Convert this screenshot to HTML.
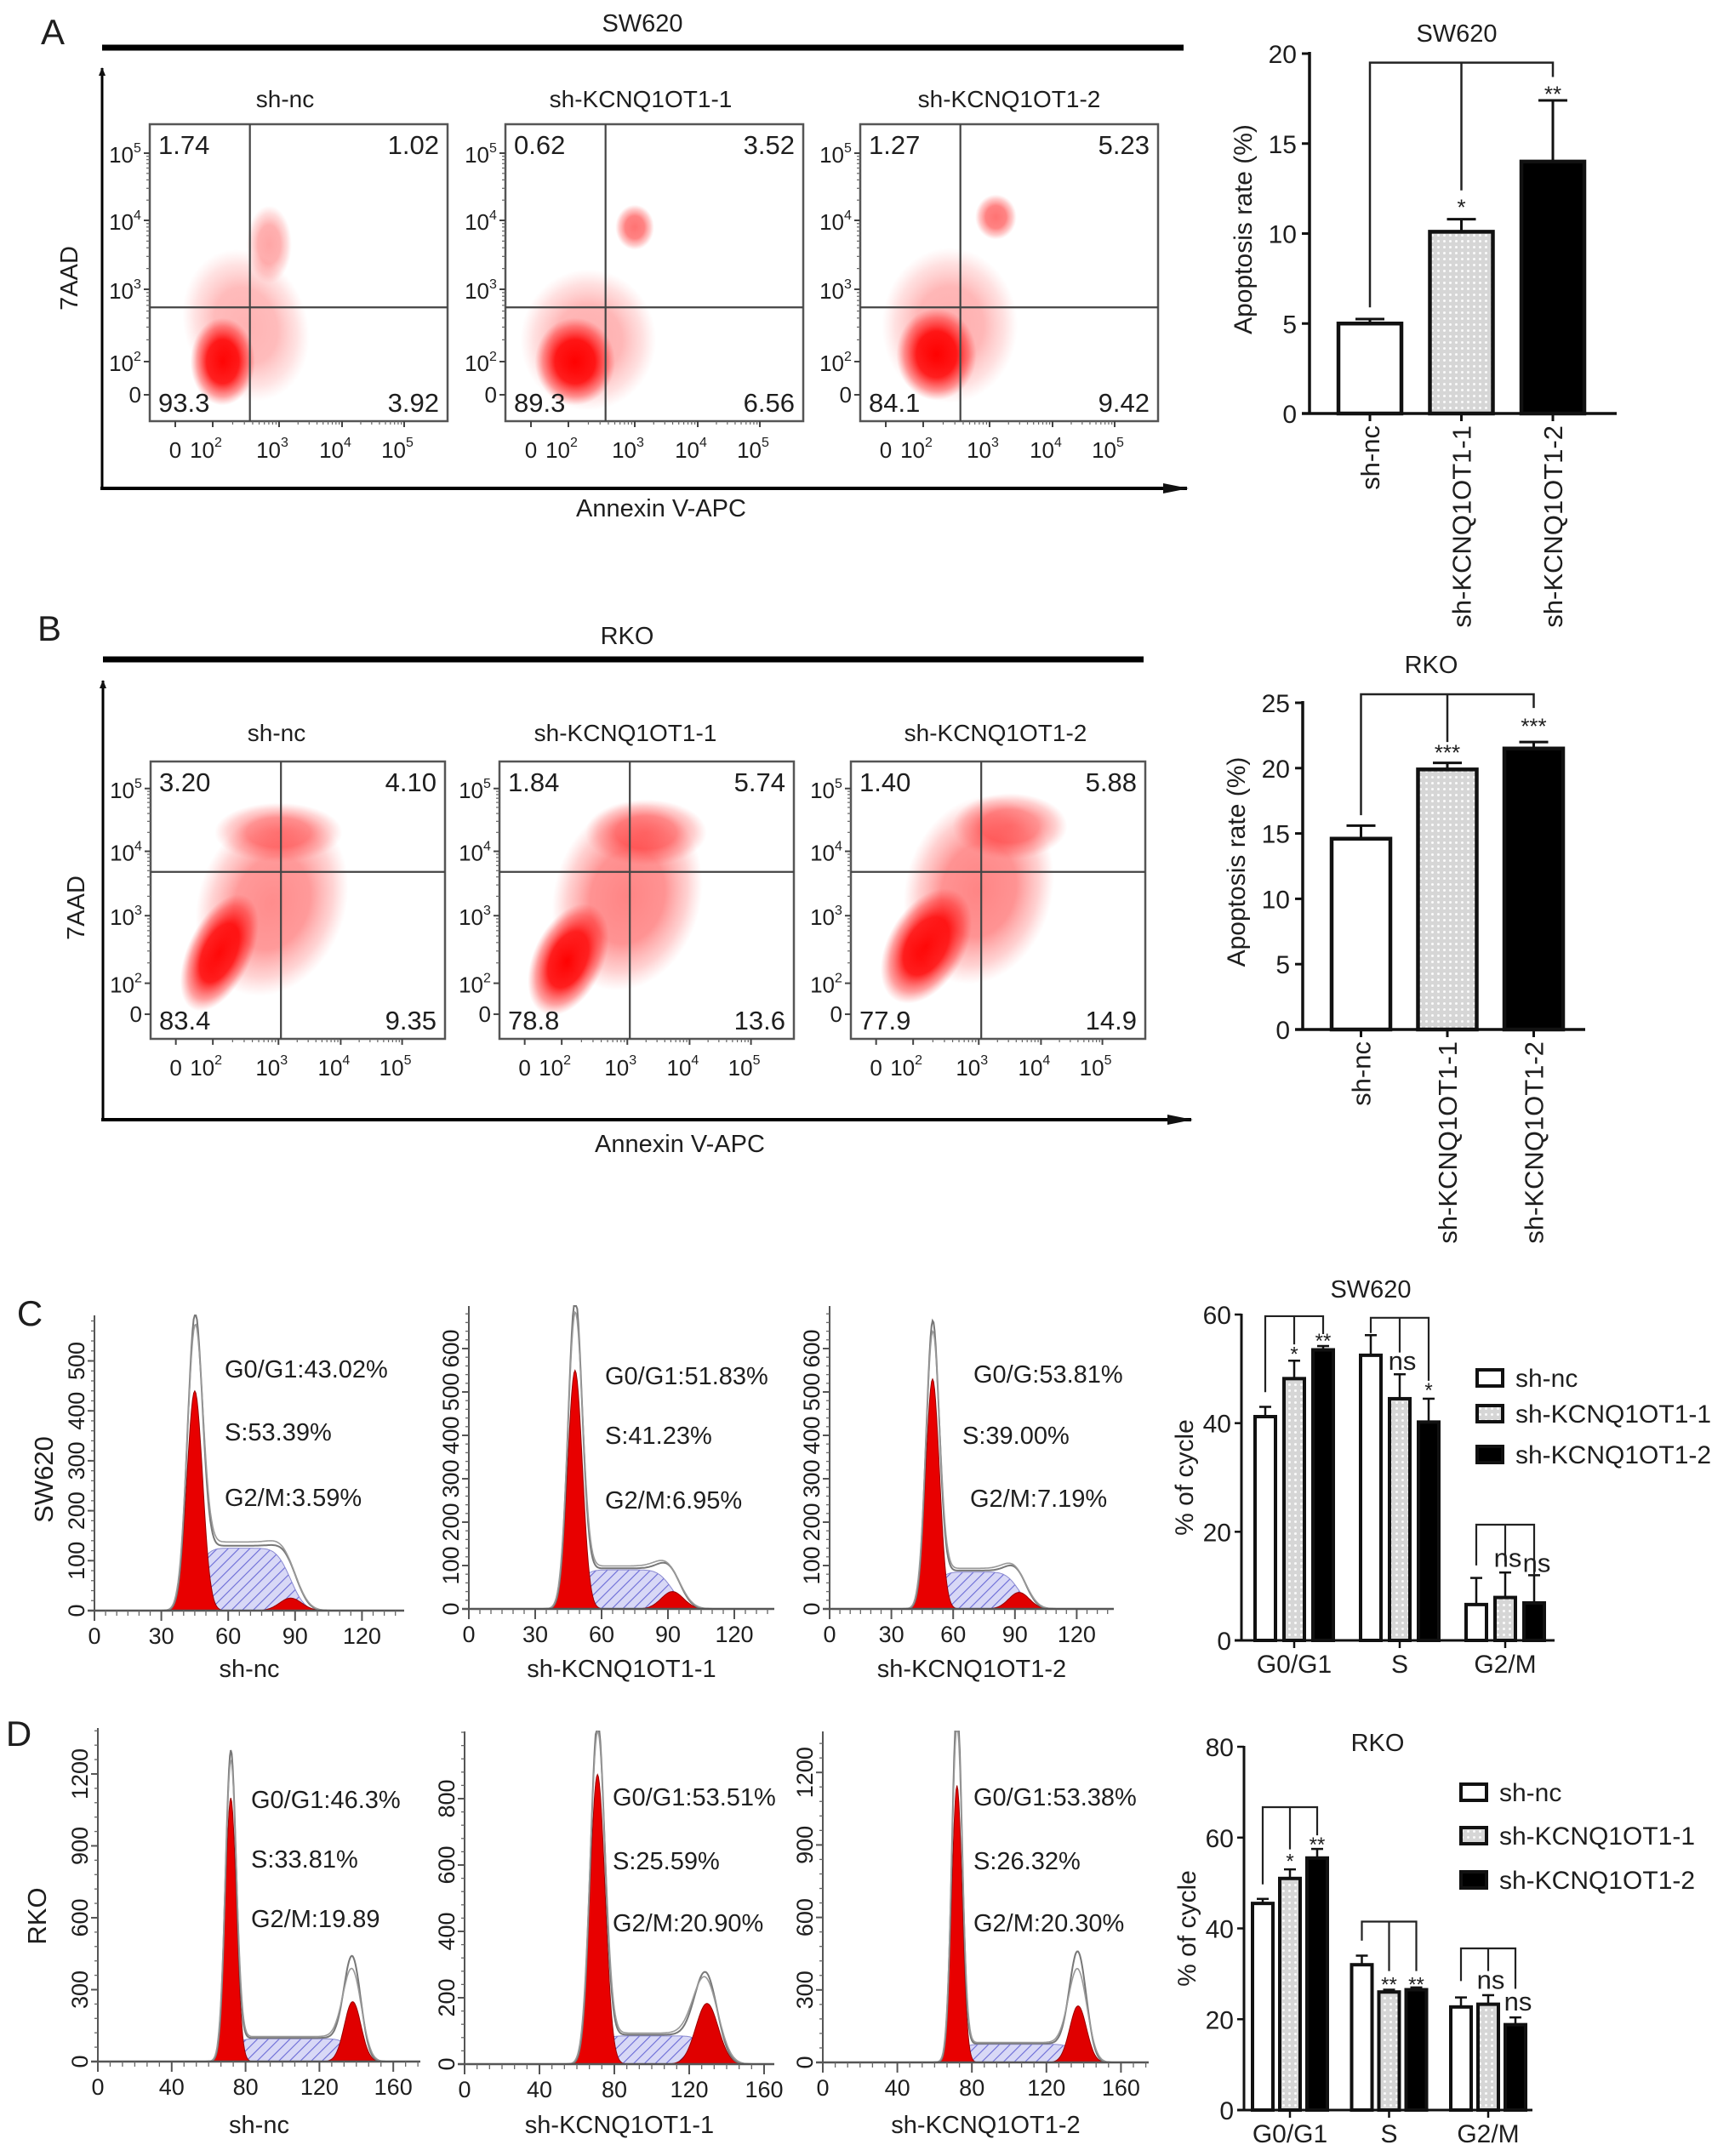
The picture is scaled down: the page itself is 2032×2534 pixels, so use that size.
<!DOCTYPE html>
<html><head><meta charset="utf-8"><title>KCNQ1OT1 apoptosis and cell cycle figure</title>
<style>
html,body{margin:0;padding:0;background:#fff;}
svg{display:block;font-family:"Liberation Sans",Arial,sans-serif;}
text{fill:#1e1e1e;}
</style></head>
<body>
<svg id="fig" xmlns="http://www.w3.org/2000/svg" width="2032" height="2534" viewBox="0 0 2032 2534">
<defs>
<pattern id="dots" width="7" height="7" patternUnits="userSpaceOnUse"><rect width="7" height="7" fill="#d6d6d6"/><circle cx="3.5" cy="3.5" r="1.5" fill="#fbfbfb"/></pattern>
<pattern id="hatch" width="9" height="9" patternUnits="userSpaceOnUse" patternTransform="rotate(45)"><rect width="9" height="9" fill="#d8d8f6"/><line x1="0" y1="0" x2="0" y2="9" stroke="#6a6ad6" stroke-width="2.2"/></pattern>
<radialGradient id="blob"><stop offset="0" stop-color="#ff0000" stop-opacity="1"/><stop offset="0.5" stop-color="#ff0505" stop-opacity="0.9"/><stop offset="0.8" stop-color="#ff2a2a" stop-opacity="0.45"/><stop offset="1" stop-color="#ff5050" stop-opacity="0"/></radialGradient>
<marker id="arrow" markerWidth="10" markerHeight="8" refX="9" refY="4" orient="auto" markerUnits="userSpaceOnUse"><path d="M0,0 L10,4 L0,8 z" fill="#111"/></marker>
<marker id="arrowBig" markerWidth="30" markerHeight="12" refX="28" refY="6" orient="auto" markerUnits="userSpaceOnUse"><path d="M0,0 L30,6 L0,12 z" fill="#111"/></marker>
</defs>

<text x="62" y="52" font-size="42" text-anchor="middle">A</text>
<text x="58" y="753" font-size="42" text-anchor="middle">B</text>
<text x="35" y="1558" font-size="42" text-anchor="middle">C</text>
<text x="22" y="2052" font-size="42" text-anchor="middle">D</text>

<text x="755" y="37" font-size="29" text-anchor="middle">SW620</text>
<line x1="120" y1="56" x2="1391" y2="56" stroke="#000" stroke-width="7"/>
<line x1="120" y1="575" x2="120" y2="80" stroke="#000" stroke-width="3" marker-end="url(#arrow)"/>
<line x1="118" y1="574" x2="1395" y2="574" stroke="#000" stroke-width="4" marker-end="url(#arrowBig)"/>
<text transform="translate(91,327) rotate(-90)" font-size="29" text-anchor="middle">7AAD</text>
<text x="777" y="607" font-size="29" text-anchor="middle">Annexin V-APC</text>

<text x="737" y="757" font-size="29" text-anchor="middle">RKO</text>
<line x1="121" y1="775" x2="1344" y2="775" stroke="#000" stroke-width="7"/>
<line x1="121" y1="1317" x2="121" y2="800" stroke="#000" stroke-width="3" marker-end="url(#arrow)"/>
<line x1="119" y1="1316" x2="1400" y2="1316" stroke="#000" stroke-width="4" marker-end="url(#arrowBig)"/>
<text transform="translate(99,1067) rotate(-90)" font-size="29" text-anchor="middle">7AAD</text>
<text x="799" y="1354" font-size="29" text-anchor="middle">Annexin V-APC</text>

<text transform="translate(62,1739) rotate(-90)" font-size="31" text-anchor="middle">SW620</text>
<text transform="translate(54,2252) rotate(-90)" font-size="31" text-anchor="middle">RKO</text>
</svg>

<script>
/* ================= DATA ================= */
const flowSamples = ['sh-nc', 'sh-KCNQ1OT1-1', 'sh-KCNQ1OT1-2'];
const flowSW620Quadrants = [['1.74','1.02','93.3','3.92'], ['0.62','3.52','89.3','6.56'], ['1.27','5.23','84.1','9.42']];
const flowRKOQuadrants = [['3.20','4.10','83.4','9.35'], ['1.84','5.74','78.8','13.6'], ['1.40','5.88','77.9','14.9']];
const flowDecadeTicks = [1, 2, 3, 4, 5];
const flowDecadeTickLabels = ['0', '2', '3', '4', '5'];
const flowSW620Gate = [2.56, 2.75];
const flowRKOGate = [3.04, 3.68];
const flowSW620Clusters = [
  [[2.15, 2.0, 0.5, 0.62, 1, 0], [2.5, 2.5, 0.95, 1.1, 0.3, -20], [2.85, 3.65, 0.35, 0.55, 0.35, 0]],
  [[2.1, 2.0, 0.62, 0.62, 1, 0], [2.3, 2.3, 1.05, 1.0, 0.32, 0], [3.0, 3.9, 0.3, 0.32, 0.55, 0]],
  [[2.2, 2.1, 0.62, 0.65, 1, 0], [2.4, 2.5, 1.05, 1.1, 0.32, 0], [3.1, 4.05, 0.32, 0.32, 0.55, 0]]
];
const flowRKOClusters = [
  [[2.1, 2.45, 0.5, 0.95, 1, 25], [2.9, 3.2, 1.15, 1.45, 0.45, 20], [3.0, 4.3, 1.0, 0.45, 0.45, 0]],
  [[2.1, 2.35, 0.55, 0.9, 1, 25], [3.0, 3.3, 1.15, 1.45, 0.48, 15], [3.3, 4.3, 0.95, 0.5, 0.48, 0]],
  [[2.2, 2.55, 0.6, 0.95, 1, 30], [3.0, 3.4, 1.15, 1.45, 0.48, 15], [3.5, 4.4, 0.9, 0.5, 0.48, 0]]
];

const apoCategories = ['sh-nc', 'sh-KCNQ1OT1-1', 'sh-KCNQ1OT1-2'];
const apoSW620Values = [5.0, 10.1, 14.0];
const apoSW620Errors = [0.25, 0.7, 3.4];
const apoSW620Ticks = [0, 5, 10, 15, 20];
const apoSW620BracketTop = 19.5;
const apoSW620Legs = [5.9, 12.4, 18.7];
const apoSW620Stars = ['', '*', '**'];
const apoSW620StarY = [0, 11.6, 17.9];
const apoRKOValues = [14.6, 19.9, 21.5];
const apoRKOErrors = [1.0, 0.5, 0.5];
const apoRKOTicks = [0, 5, 10, 15, 20, 25];
const apoRKOBracketTop = 25.65;
const apoRKOLegs = [16.4, 22.0, 24.6];
const apoRKOStars = ['', '***', '***'];
const apoRKOStarY = [0, 21.4, 23.4];

const histSW620G1Mean = [45, 48, 50];
const histSW620G1Sd = [3.5, 3.3, 3.3];
const histSW620G1Height = [440, 550, 530];
const histSW620G1Peak = [530, 670, 620];
const histSW620SLevel = [125, 90, 85];
const histSW620G2Mean = [88, 92, 92];
const histSW620G2Sd = [5, 5, 5];
const histSW620G2Height = [25, 40, 38];
const histSW620G2Peak = [30, 45, 42];
const histSW620Text = [['G0/G1:43.02%', 'S:53.39%', 'G2/M:3.59%'], ['G0/G1:51.83%', 'S:41.23%', 'G2/M:6.95%'], ['G0/G:53.81%', 'S:39.00%', 'G2/M:7.19%']];
const histSW620XTicks = [0, 30, 60, 90, 120];
const histSW620YTicks = [[0, 100, 200, 300, 400, 500], [0, 100, 200, 300, 400, 500, 600], [0, 100, 200, 300, 400, 500, 600]];

const histRKOG1Mean = [72, 71, 72];
const histRKOG1Sd = [3, 4, 2.8];
const histRKOG1Height = [1100, 873, 1146];
const histRKOG1Peak = [1250, 991, 1450];
const histRKOSLevel = [95, 85, 75];
const histRKOG2Mean = [138, 129.5, 137];
const histRKOG2Sd = [4.5, 6, 4.5];
const histRKOG2Height = [250, 183, 234];
const histRKOG2Peak = [390, 230, 420];
const histRKOText = [['G0/G1:46.3%', 'S:33.81%', 'G2/M:19.89'], ['G0/G1:53.51%', 'S:25.59%', 'G2/M:20.90%'], ['G0/G1:53.38%', 'S:26.32%', 'G2/M:20.30%']];
const histRKOXTicks = [0, 40, 80, 120, 160];
const histRKOYTicks = [[0, 300, 600, 900, 1200], [0, 200, 400, 600, 800], [0, 300, 600, 900, 1200]];

const cyclePhases = ['G0/G1', 'S', 'G2/M'];
const cycleGroups = ['sh-nc', 'sh-KCNQ1OT1-1', 'sh-KCNQ1OT1-2'];
const cycleSW620Values = [[41.2, 48.2, 53.5], [52.5, 44.5, 40.2], [6.6, 7.9, 6.9]];
const cycleSW620Errors = [[1.8, 3.3, 0.7], [3.7, 4.5, 4.3], [4.9, 4.6, 5.1]];
const cycleSW620Ticks = [0, 20, 40, 60];
const cycleSW620BracketTops = [59.7, 59.4, 21.3];
const cycleSW620Legs = [[45.7, 54.5, 56.4], [56.6, 53.0, 47.8], [13.8, 14.5, 12.0]];
const cycleSW620Marks = [['', '*', '**'], ['', 'ns', '*'], ['', 'ns', 'ns']];
const cycleSW620MarkY = [[0, 53.2, 55.6], [0, 51.2, 46.5], [0, 15.0, 14.0]];
const cycleRKOValues = [[45.5, 51.0, 55.5], [32.0, 26.0, 26.5], [22.7, 23.3, 18.8]];
const cycleRKOErrors = [[1.0, 2.0, 2.0], [2.0, 0.5, 0.5], [2.1, 2.0, 1.6]];
const cycleRKOTicks = [0, 20, 40, 60, 80];
const cycleRKOBracketTops = [66.7, 41.5, 35.6];
const cycleRKOLegs = [[49.7, 57.4, 60.5], [37.3, 30.6, 30.6], [28.4, 30.6, 26.7]];
const cycleRKOMarks = [['', '*', '**'], ['', '**', '**'], ['', 'ns', 'ns']];
const cycleRKOMarkY = [[0, 55.4, 59.0], [0, 28.2, 28.2], [0, 28.4, 23.6]];

/* ================= HELPERS ================= */
const NS = 'http://www.w3.org/2000/svg';
const svg = document.getElementById('fig');
function mk(tag, attrs, parent) {
  const e = document.createElementNS(NS, tag);
  for (const k in attrs) e.setAttribute(k, attrs[k]);
  (parent || svg).appendChild(e);
  return e;
}
function tx(s, attrs, parent) { const e = mk('text', attrs, parent); e.textContent = s; return e; }
const barFills = ['#ffffff', 'url(#dots)', '#000000'];

/* ================= FLOW PLOTS ================= */
const FX = [30, 74, 152, 226, 299];
const FY = [318, 279, 194, 113, 34];
function interp(arr, d) {
  let i = Math.floor(d) - 1;
  if (i < 0) i = 0; if (i > 3) i = 3;
  return arr[i] + (arr[i + 1] - arr[i]) * (d - (i + 1));
}
function drawFlow(key, bx, by, bw, bh, titleY, titleDx, quads, gate, clusters, idx) {
  const g = mk('g', {});
  
  
  const sx = bw / 350, sy = bh / 349;
  const fx = d => bx + interp(FX, d) * sx;
  const fy = d => by + interp(FY, d) * sy;
  const t = tx(flowSamples[idx], { x: bx + bw / 2 + titleDx, y: titleY + 10, 'font-size': 28, 'text-anchor': 'middle' }, g);
  
  
  const cid = key + 'clip' + idx;
  const cp = mk('clipPath', { id: cid }, g);
  mk('rect', { x: bx, y: by, width: bw, height: bh }, cp);
  const cg = mk('g', { 'clip-path': 'url(#' + cid + ')' }, g);
  clusters[idx].forEach((c, k) => {
    const cx = fx(c[0]), cy = fy(c[1]);
    const rx = c[2] * 76 * sx, ry = c[3] * 83 * sy;
    const el = mk('ellipse', { cx: cx, cy: cy, rx: rx, ry: ry, fill: 'url(#blob)', opacity: c[4], transform: 'rotate(' + c[5] + ' ' + cx + ' ' + cy + ')' }, cg);
    
    
  });
  const box = mk('rect', { x: bx, y: by, width: bw, height: bh, fill: 'none', stroke: '#555', 'stroke-width': 2.5 }, g);
  
  
  const gx = fx(gate[0]), gy = fy(gate[1]);
  const vl = mk('line', { x1: gx, y1: by, x2: gx, y2: by + bh, stroke: '#444', 'stroke-width': 2.2 }, g);
  
  
  const hl = mk('line', { x1: bx, y1: gy, x2: bx + bw, y2: gy, stroke: '#444', 'stroke-width': 2.2 }, g);
  
  
  flowDecadeTicks.forEach((d, k) => {
    const yy = fy(d), xx = fx(d);
    mk('line', { x1: bx - 7, y1: yy, x2: bx, y2: yy, stroke: '#444', 'stroke-width': 2 }, g);
    mk('line', { x1: xx, y1: by + bh, x2: xx, y2: by + bh + 7, stroke: '#444', 'stroke-width': 2 }, g);
    if (d >= 2 && d < 5) {
      for (let m = 2; m <= 9; m++) {
        const dd = d + Math.log10(m);
        mk('line', { x1: bx - 4, y1: fy(dd), x2: bx, y2: fy(dd), stroke: '#666', 'stroke-width': 1.2 }, g);
        mk('line', { x1: fx(dd), y1: by + bh, x2: fx(dd), y2: by + bh + 4, stroke: '#666', 'stroke-width': 1.2 }, g);
      }
    }
    let yl, xl;
    if (k === 0) {
      yl = tx('0', { x: bx - 10, y: yy + 9, 'font-size': 26, 'text-anchor': 'end' }, g);
      xl = tx('0', { x: xx, y: by + bh + 43, 'font-size': 26, 'text-anchor': 'middle' }, g);
    } else {
      yl = tx('10', { x: bx - 19, y: yy + 11, 'font-size': 26, 'text-anchor': 'end' }, g);
      const s1 = tx(flowDecadeTickLabels[k], { x: bx - 19, y: yy - 1, 'font-size': 16, 'text-anchor': 'start' }, g);
      
      
      xl = tx('10', { x: xx + 2, y: by + bh + 43, 'font-size': 26, 'text-anchor': 'end' }, g);
      const s2 = tx(flowDecadeTickLabels[k], { x: xx + 2, y: by + bh + 30, 'font-size': 16, 'text-anchor': 'start' }, g);
      
      
    }
    
    
    
    
  });
  const q = quads[idx];
  const pos = [[bx + 10, by + 35, 'start'], [bx + bw - 10, by + 35, 'end'], [bx + 10, by + bh - 11, 'start'], [bx + bw - 10, by + bh - 11, 'end']];
  const qn = ['upper-left', 'upper-right', 'lower-left', 'lower-right'];
  q.forEach((v, k) => {
    const e = tx(v, { x: pos[k][0], y: pos[k][1], 'font-size': 31, 'text-anchor': pos[k][2] }, g);
    
    
  });
}
[176, 594, 1011].forEach((bx, i) => drawFlow('sw620', bx, 146, 350, 349, 116, i === 2 ? 0 : -16, flowSW620Quadrants, flowSW620Gate, flowSW620Clusters, i));
[177, 587, 1000].forEach((bx, i) => drawFlow('rko', bx, 895, 346, 326, 861, i === 2 ? -3 : -25, flowRKOQuadrants, flowRKOGate, flowRKOClusters, i));

/* ================= APOPTOSIS BARS ================= */
function drawApo(key, title, axX, y0, yTop, vmax, xEnd, barX0, barStep, barW, values, errors, ticks, bTop, legs, stars, starY, titleX, titleY) {
  const g = mk('g', {});
  
  
  const yS = v => y0 - (y0 - yTop) * v / vmax;
  const tt = tx(title, { x: titleX, y: titleY + 10, 'font-size': 29, 'text-anchor': 'middle' }, g);
  
  
  const yl = tx('Apoptosis rate (%)', { transform: 'translate(' + (axX - 68) + ',' + ((y0 + yTop) / 2 - 5) + ') rotate(-90)', 'font-size': 30, 'text-anchor': 'middle' }, g);
  
  
  ticks.forEach(v => {
    mk('line', { x1: axX - 9, y1: yS(v), x2: axX, y2: yS(v), stroke: '#111', 'stroke-width': 3 }, g);
    const e = tx(String(v), { x: axX - 15, y: yS(v) + 11, 'font-size': 30, 'text-anchor': 'end' }, g);
    
    
  });
  const ax = mk('line', { x1: axX, y1: yTop - 2, x2: axX, y2: y0 + 1, stroke: '#111', 'stroke-width': 3.5 }, g);
  
  
  const xa = mk('line', { x1: axX - 9, y1: y0, x2: xEnd, y2: y0, stroke: '#111', 'stroke-width': 3.5 }, g);
  
  
  const centers = [];
  values.forEach((v, i) => {
    const x = barX0 + i * barStep, cx = x + barW / 2;
    centers.push(cx);
    const eb = mk('line', { x1: cx, y1: yS(v), x2: cx, y2: yS(v + errors[i]), stroke: '#111', 'stroke-width': 3 }, g);
    
    
    mk('line', { x1: cx - 17, y1: yS(v + errors[i]), x2: cx + 17, y2: yS(v + errors[i]), stroke: '#111', 'stroke-width': 3 }, g);
    const r = mk('rect', { x: x, y: yS(v), width: barW, height: y0 - yS(v), fill: barFills[i], stroke: '#111', 'stroke-width': 4.5 }, g);
    
    
    mk('line', { x1: cx, y1: y0, x2: cx, y2: y0 + 9, stroke: '#111', 'stroke-width': 3 }, g);
    const lb = tx(apoCategories[i], { transform: 'translate(' + (cx + 11) + ',' + (y0 + 14) + ') rotate(-90)', 'font-size': 31, 'text-anchor': 'end' }, g);
    
    
  });
  const br = mk('path', { d: 'M' + centers[0] + ',' + yS(legs[0]) + ' V' + yS(bTop) + ' H' + centers[2] + ' V' + yS(legs[2]) + ' M' + centers[1] + ',' + yS(bTop) + ' V' + yS(legs[1]), fill: 'none', stroke: '#222', 'stroke-width': 2.5 }, g);
  
  
  stars.forEach((s, i) => {
    if (!s) return;
    const st = tx(s, { x: centers[i], y: yS(starY[i]) + 12, 'font-size': 26, 'text-anchor': 'middle' }, g);
    
    
  });
}
drawApo('sw620', 'SW620', 1539, 486, 63, 20, 1900, 1573, 107.5, 74, apoSW620Values, apoSW620Errors, apoSW620Ticks, apoSW620BracketTop, apoSW620Legs, apoSW620Stars, apoSW620StarY, 1712, 39);
drawApo('rko', 'RKO', 1531, 1210, 826, 25, 1863, 1565, 101.5, 69, apoRKOValues, apoRKOErrors, apoRKOTicks, apoRKOBracketTop, apoRKOLegs, apoRKOStars, apoRKOStarY, 1682, 781);

/* ================= HISTOGRAMS ================= */
function phi(z) {
  const t = 1 / (1 + 0.2316419 * Math.abs(z));
  const d = 0.3989423 * Math.exp(-z * z / 2);
  const p = d * t * (0.3193815 + t * (-0.3565638 + t * (1.781478 + t * (-1.821256 + t * 1.330274))));
  return z > 0 ? 1 - p : p;
}
function gau(x, m, s) { return Math.exp(-(x - m) * (x - m) / (2 * s * s)); }
function drawHist(key, i, geo, xTicks, yTicks, g1m, g1s, g1h, g1p, sLev, g2m, g2s, g2h, g2p, texts, textPos, label, labelY) {
  const g = mk('g', {});
  
  
  const [axX, base, xs, ys, top, right] = geo;
  const X = v => axX + v * xs;
  const Y = c => Math.max(top, base - c * ys);
  const xMax = (right - axX) / xs;
  const S = x => sLev[i] * (phi((x - g1m[i]) / 4.5) - phi((x - g2m[i]) / 5));
  const g1 = x => g1h[i] * gau(x, g1m[i], g1s[i]);
  const g2 = x => g2h[i] * gau(x, g2m[i], g2s[i]);
  let sd = 'M' + X(g1m[i] - 5) + ',' + base, g1d = 'M' + X(g1m[i] - 5 * g1s[i]) + ',' + base, g2d = 'M' + X(g2m[i] - 5 * g2s[i]) + ',' + base;
  let o1 = '', o2 = '';
  for (let x = 0; x <= xMax; x += 0.5) {
    if (x >= g1m[i] - 5 && x <= g2m[i] + 15) sd += ' L' + X(x).toFixed(1) + ',' + Y(S(x)).toFixed(1);
    if (Math.abs(x - g1m[i]) <= 5 * g1s[i]) g1d += ' L' + X(x).toFixed(1) + ',' + Y(g1(x)).toFixed(1);
    if (Math.abs(x - g2m[i]) <= 5 * g2s[i]) g2d += ' L' + X(x).toFixed(1) + ',' + Y(g2(x)).toFixed(1);
    const tot1 = g1p[i] * gau(x, g1m[i], g1s[i] * 0.95) + S(x) * 1.04 + g2p[i] * gau(x, g2m[i], g2s[i]);
    const tot2 = (g1h[i] + (g1p[i] - g1h[i]) * 0.7) * gau(x, g1m[i], g1s[i]) + S(x) * 1.1 + (g2h[i] + (g2p[i] - g2h[i]) * 0.6) * gau(x, g2m[i], g2s[i] * 1.1);
    o1 += (o1 ? ' L' : 'M') + X(x).toFixed(1) + ',' + Y(tot1).toFixed(1);
    o2 += (o2 ? ' L' : 'M') + X(x).toFixed(1) + ',' + Y(tot2).toFixed(1);
  }
  sd += ' L' + X(g2m[i] + 15) + ',' + base + ' Z';
  g1d += ' L' + X(g1m[i] + 5 * g1s[i]) + ',' + base + ' Z';
  g2d += ' L' + X(g2m[i] + 5 * g2s[i]) + ',' + base + ' Z';
  const sp = mk('path', { d: sd, fill: 'url(#hatch)', stroke: '#8a8ad0', 'stroke-width': 1 }, g);
  
  
  const p1 = mk('path', { d: g1d, fill: '#e80000', stroke: '#900', 'stroke-width': 1 }, g);
  
  
  const p2 = mk('path', { d: g2d, fill: '#e00000', stroke: '#900', 'stroke-width': 1 }, g);
  
  
  const l1 = mk('path', { d: o1, fill: 'none', stroke: '#777', 'stroke-width': 2 }, g);
  
  
  const l2 = mk('path', { d: o2, fill: 'none', stroke: '#999', 'stroke-width': 1.6 }, g);
  
  
  const ya = mk('line', { x1: axX, y1: top, x2: axX, y2: base + 12, stroke: '#555', 'stroke-width': 2 }, g);
  
  
  const xa = mk('line', { x1: axX - 8, y1: base, x2: right, y2: base, stroke: '#555', 'stroke-width': 2.5 }, g);
  
  
  const yt = yTicks[i], step = yt[1] - yt[0];
  for (let c = 0; base - c * ys >= top; c += step / 5) {
    mk('line', { x1: axX - 4, y1: base - c * ys, x2: axX, y2: base - c * ys, stroke: '#666', 'stroke-width': 1.3 }, g);
  }
  yt.forEach(v => {
    mk('line', { x1: axX - 8, y1: base - v * ys, x2: axX, y2: base - v * ys, stroke: '#555', 'stroke-width': 2 }, g);
    const e = tx(String(v), { transform: 'translate(' + (axX - 12) + ',' + (base - v * ys) + ') rotate(-90)', 'font-size': 27, 'text-anchor': 'middle' }, g);
    
    
  });
  const xstep = xTicks[1] - xTicks[0];
  for (let v = 0; X(v) <= right; v += xstep / 6) {
    mk('line', { x1: X(v), y1: base, x2: X(v), y2: base + 6, stroke: '#666', 'stroke-width': 1.3 }, g);
  }
  xTicks.forEach(v => {
    mk('line', { x1: X(v), y1: base, x2: X(v), y2: base + 12, stroke: '#555', 'stroke-width': 2 }, g);
    const e = tx(String(v), { x: X(v), y: base + 39, 'font-size': 27, 'text-anchor': 'middle' }, g);
    
    
  });
  texts[i].forEach((s, k) => {
    const e = tx(s, { x: textPos[k][0], y: textPos[k][1] + 11, 'font-size': 29 }, g);
    
    
  });
  const xl = tx(label, { x: (axX + right) / 2, y: labelY + 10, 'font-size': 29, 'text-anchor': 'middle' }, g);
  
  
}
const histSW620Geo = [[111, 1893, 2.62, 0.587, 1546, 475], [551, 1891, 2.6, 0.51, 1535, 910], [975, 1891, 2.42, 0.51, 1535, 1309]];
const histSW620TextPos = [[[264, 1608], [264, 1682], [264, 1759]], [[711, 1616], [711, 1686], [711, 1762]], [[1144, 1614], [1131, 1686], [1140, 1760]]];
const histRKOGeo = [[115, 2423, 2.17, 0.2817, 2031, 494], [546, 2426, 2.2, 0.39, 2035, 910], [967, 2424, 2.19, 0.284, 2035, 1350]];
const histRKOTextPos = [[[295, 2114], [295, 2184], [295, 2254]], [[720, 2111], [720, 2186], [720, 2259]], [[1144, 2111], [1144, 2186], [1144, 2259]]];
for (let i = 0; i < 3; i++) {
  drawHist('sw620', i, histSW620Geo[i], histSW620XTicks, histSW620YTicks, histSW620G1Mean, histSW620G1Sd, histSW620G1Height, histSW620G1Peak, histSW620SLevel, histSW620G2Mean, histSW620G2Sd, histSW620G2Height, histSW620G2Peak, histSW620Text, histSW620TextPos[i], flowSamples[i], 1961);
  drawHist('rko', i, histRKOGeo[i], histRKOXTicks, histRKOYTicks, histRKOG1Mean, histRKOG1Sd, histRKOG1Height, histRKOG1Peak, histRKOSLevel, histRKOG2Mean, histRKOG2Sd, histRKOG2Height, histRKOG2Peak, histRKOText, histRKOTextPos[i], flowSamples[i], 2497);
}

/* ================= CELL CYCLE BARS ================= */
function drawCycle(key, title, axX, y0, yTop, vmax, xEnd, grp0, grpStep, pitch, bw, values, errors, ticks, bTops, legs, marks, markY, titleX, titleY, legX, legY) {
  const g = mk('g', {});
  
  
  const yS = v => y0 - (y0 - yTop) * v / vmax;
  const tt = tx(title, { x: titleX, y: titleY + 10, 'font-size': 29, 'text-anchor': 'middle' }, g);
  
  
  const yl = tx('% of cycle', { transform: 'translate(' + (axX - 57) + ',' + ((y0 + yTop) / 2) + ') rotate(-90)', 'font-size': 30, 'text-anchor': 'middle' }, g);
  
  
  ticks.forEach(v => {
    mk('line', { x1: axX - 8, y1: yS(v), x2: axX, y2: yS(v), stroke: '#111', 'stroke-width': 2.5 }, g);
    const e = tx(String(v), { x: axX - 12, y: yS(v) + 11, 'font-size': 30, 'text-anchor': 'end' }, g);
    
    
  });
  const ax = mk('line', { x1: axX, y1: yTop - 1, x2: axX, y2: y0, stroke: '#111', 'stroke-width': 3 }, g);
  
  
  const xa = mk('line', { x1: axX - 8, y1: y0, x2: xEnd, y2: y0, stroke: '#111', 'stroke-width': 3 }, g);
  
  
  cyclePhases.forEach((ph, p) => {
    const centers = [];
    cycleGroups.forEach((gr, k) => {
      const x = grp0 + p * grpStep + k * pitch, cx = x + bw / 2, v = values[p][k];
      centers.push(cx);
      const eb = mk('line', { x1: cx, y1: yS(v), x2: cx, y2: yS(v + errors[p][k]), stroke: '#111', 'stroke-width': 2.5 }, g);
      
      
      mk('line', { x1: cx - 7, y1: yS(v + errors[p][k]), x2: cx + 7, y2: yS(v + errors[p][k]), stroke: '#111', 'stroke-width': 2.5 }, g);
      const r = mk('rect', { x: x, y: yS(v), width: bw, height: y0 - yS(v), fill: barFills[k], stroke: '#111', 'stroke-width': 4 }, g);
      
      
    });
    mk('line', { x1: centers[1], y1: y0, x2: centers[1], y2: y0 + 9, stroke: '#111', 'stroke-width': 2.5 }, g);
    const lb = tx(ph, { x: centers[1], y: y0 + 38, 'font-size': 30, 'text-anchor': 'middle' }, g);
    
    
    const br = mk('path', { d: 'M' + centers[0] + ',' + yS(legs[p][0]) + ' V' + yS(bTops[p]) + ' H' + centers[2] + ' V' + yS(legs[p][2]) + ' M' + centers[1] + ',' + yS(bTops[p]) + ' V' + yS(legs[p][1]), fill: 'none', stroke: '#222', 'stroke-width': 2.2 }, g);
    
    
    marks[p].forEach((m, k) => {
      if (!m) return;
      const ns = m === 'ns';
      const e = tx(m, { x: centers[k] + (ns ? 3 : 0), y: yS(markY[p][k]) + (ns ? 9 : 11), 'font-size': ns ? 31 : 24, 'text-anchor': 'middle' }, g);
      
      
    });
  });
  cycleGroups.forEach((gr, k) => {
    const lr = mk('rect', { x: legX, y: legY[k] - 9, width: 30, height: 19, fill: barFills[k], stroke: '#111', 'stroke-width': 4 }, g);
    
    
    const lt = tx(gr, { x: legX + 45, y: legY[k] + 11, 'font-size': 30 }, g);
    
    
  });
}
drawCycle('sw620', 'SW620', 1459, 1928, 1545, 60, 1827, 1475, 124, 34, 24, cycleSW620Values, cycleSW620Errors, cycleSW620Ticks, cycleSW620BracketTops, cycleSW620Legs, cycleSW620Marks, cycleSW620MarkY, 1611, 1515, 1736, [1619, 1661, 1709]);
drawCycle('rko', 'RKO', 1462, 2480, 2053, 80, 1801, 1472, 116.5, 32, 24, cycleRKOValues, cycleRKOErrors, cycleRKOTicks, cycleRKOBracketTops, cycleRKOLegs, cycleRKOMarks, cycleRKOMarkY, 1619, 2048, 1717, [2106, 2157, 2209]);
</script>
</body></html>
